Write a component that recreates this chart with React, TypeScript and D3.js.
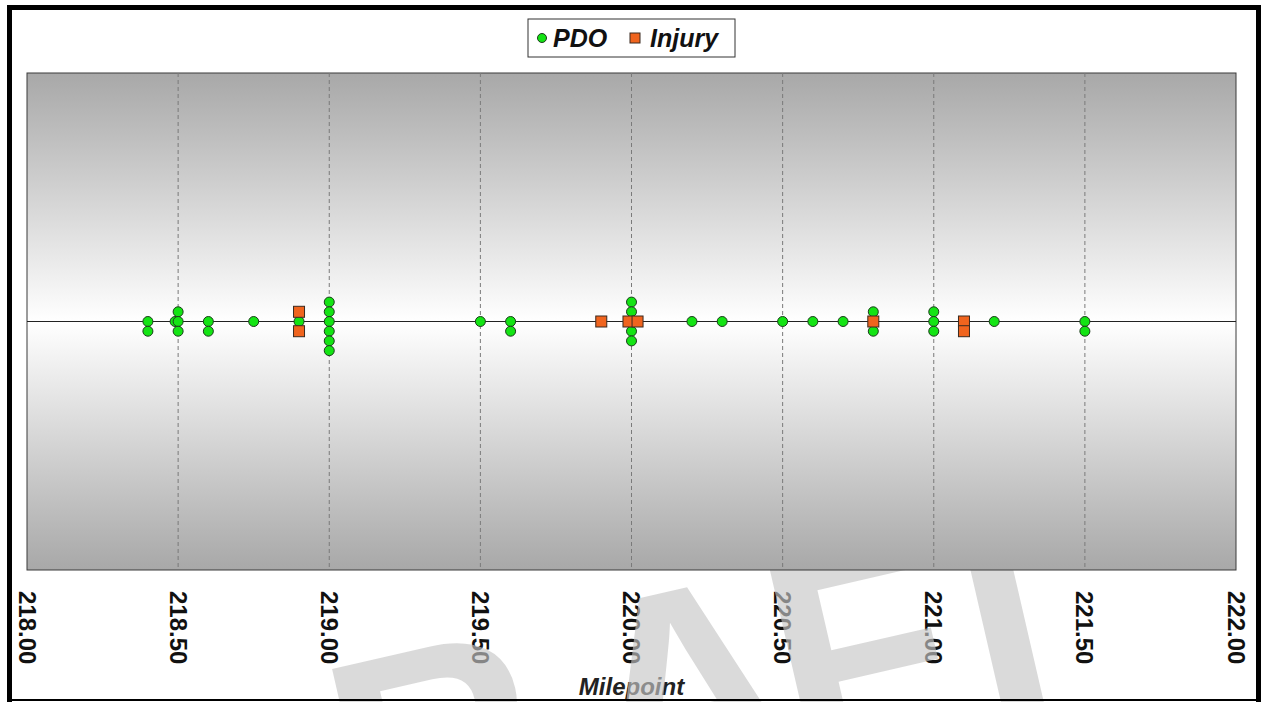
import React from 'react';
import * as d3 from 'd3';

const W = 1263;
const H = 702;

const xTickValues = [218.0, 218.5, 219.0, 219.5, 220.0, 220.5, 221.0, 221.5, 222.0];
const seriesNames = ['PDO', 'Injury'];
const axisTitle = 'Milepoint';
const watermarkLetters = ['D', 'R', 'A', 'F', 'T'];
const watermarkShift = [-80, 80, 45, -15, -30];

// PDO crashes: milepoint and stacking level (offset above/below the centre line)
const pdoMilepoints = [
  218.40, 218.40,
  218.49, 218.50, 218.50, 218.50,
  218.60, 218.60,
  218.75,
  218.90,
  219.00, 219.00, 219.00, 219.00, 219.00, 219.00,
  219.50,
  219.60, 219.60,
  220.00, 220.00, 220.00, 220.00, 220.00,
  220.20,
  220.30,
  220.50,
  220.60,
  220.70,
  220.80, 220.80,
  221.00, 221.00, 221.00,
  221.20,
  221.50, 221.50,
];
const pdoStack = [
  0, -1,
  0, 1, 0, -1,
  0, -1,
  0,
  0,
  2, 1, 0, -1, -2, -3,
  0,
  0, -1,
  2, 1, 0, -1, -2,
  0,
  0,
  0,
  0,
  0,
  1, -1,
  1, 0, -1,
  0,
  0, -1,
];

// Injury crashes
const injuryMilepoints = [218.90, 218.90, 219.90, 219.99, 220.02, 220.80, 221.10, 221.10];
const injuryStack = [1, -1, 0, 0, 0, 0, 0, -1];

const FONT = '"Liberation Sans", Arial, Helvetica, sans-serif';

export default function App() {
  const plot = { left: 27, right: 1236, top: 73, bottom: 570 };
  const x = d3.scaleLinear().domain([218, 222]).range([plot.left, plot.right]);
  const y = d3.scaleLinear().domain([-25.6, 25.6]).range([plot.bottom, plot.top]);

  const pdo = pdoMilepoints.map((m, i) => ({ m, s: pdoStack[i] }));
  const inj = injuryMilepoints.map((m, i) => ({ m, s: injuryStack[i] }));
  const sq = 11;

  return (
    <div style={{ position: 'absolute', left: 0, top: 0 }}>
      <svg width={W} height={H} style={{ display: 'block', background: '#ffffff' }}>
        <defs>
          <linearGradient id="bg" x1="0" y1="0" x2="0" y2="1">
            <stop offset="0%" stopColor="#a8a8a8" />
            <stop offset="50%" stopColor="#ffffff" />
            <stop offset="100%" stopColor="#a8a8a8" />
          </linearGradient>
        </defs>
        <rect x={0} y={0} width={W} height={H} fill="#ffffff" />

        {/* tick labels */}
        {xTickValues.map((t) => (
          <text
            key={'t' + t}
            transform={`translate(${x(t)},${591}) rotate(90)`}
            fontFamily={FONT}
            fontWeight="bold"
            fontSize={24}
            dominantBaseline="central"
            textAnchor="start"
            fill="#111"
          >
            {t.toFixed(2)}
          </text>
        ))}
        <text
          x={(plot.left + plot.right) / 2}
          y={695}
          textAnchor="middle"
          fontFamily={FONT}
          fontWeight="bold"
          fontStyle="italic"
          fontSize={24}
          fill="#222"
        >
          {axisTitle}
        </text>

        {/* watermark (sits behind the opaque plot area) */}
        <text
          transform="translate(154,915) rotate(-13)"
          fontFamily={FONT}
          fontWeight="bold"
          fontSize={290}
          fill="#c6c6c6"
          fillOpacity={0.65}
        >
          {watermarkLetters.map((l, i) => (
            <tspan key={l + i} dx={watermarkShift[i]}>
              {l}
            </tspan>
          ))}
        </text>

        {/* plot area */}
        <rect
          x={plot.left}
          y={plot.top}
          width={plot.right - plot.left}
          height={plot.bottom - plot.top}
          fill="url(#bg)"
          stroke="#3a3a3a"
          strokeWidth={1}
        />
        {xTickValues.slice(1, -1).map((t) => (
          <line
            key={'g' + t}
            x1={x(t)}
            x2={x(t)}
            y1={plot.top}
            y2={plot.bottom}
            stroke="#7a7a7a"
            strokeWidth={1}
            strokeDasharray="4,3"
          />
        ))}
        <line x1={plot.left} x2={plot.right} y1={y(0)} y2={y(0)} stroke="#222" strokeWidth={1} />

        {pdo.map((d, i) => (
          <circle key={'p' + i} cx={x(d.m)} cy={y(d.s)} r={5} fill="#14e414" stroke="#1c3a1c" strokeWidth={1} />
        ))}
        {inj.map((d, i) => (
          <rect
            key={'i' + i}
            x={x(d.m) - sq / 2}
            y={y(d.s) - sq / 2}
            width={sq}
            height={sq}
            fill="#f0641e"
            stroke="#3a2a20"
            strokeWidth={1}
          />
        ))}

        {/* legend */}
        <rect x={528} y={19} width={207} height={38} fill="#ffffff" stroke="#333" strokeWidth={1} />
        <circle cx={542} cy={38} r={4.5} fill="#14e414" stroke="#1c3a1c" strokeWidth={1} />
        <text x={553} y={47} fontFamily={FONT} fontWeight="bold" fontStyle="italic" fontSize={25} fill="#111">
          {seriesNames[0]}
        </text>
        <rect x={630} y={33} width={10} height={10} fill="#f0641e" stroke="#3a2a20" strokeWidth={1} />
        <text x={650} y={47} fontFamily={FONT} fontWeight="bold" fontStyle="italic" fontSize={25} fill="#111">
          {seriesNames[1]}
        </text>

        {/* outer frame */}
        <rect x={7} y={5} width={5} height={697} fill="#000" />
        <rect x={7} y={5} width={1254} height={5} fill="#000" />
        <rect x={1256} y={5} width={5} height={697} fill="#000" />
        <rect x={7} y={699} width={1254} height={2} fill="#000" />
      </svg>
    </div>
  );
}
